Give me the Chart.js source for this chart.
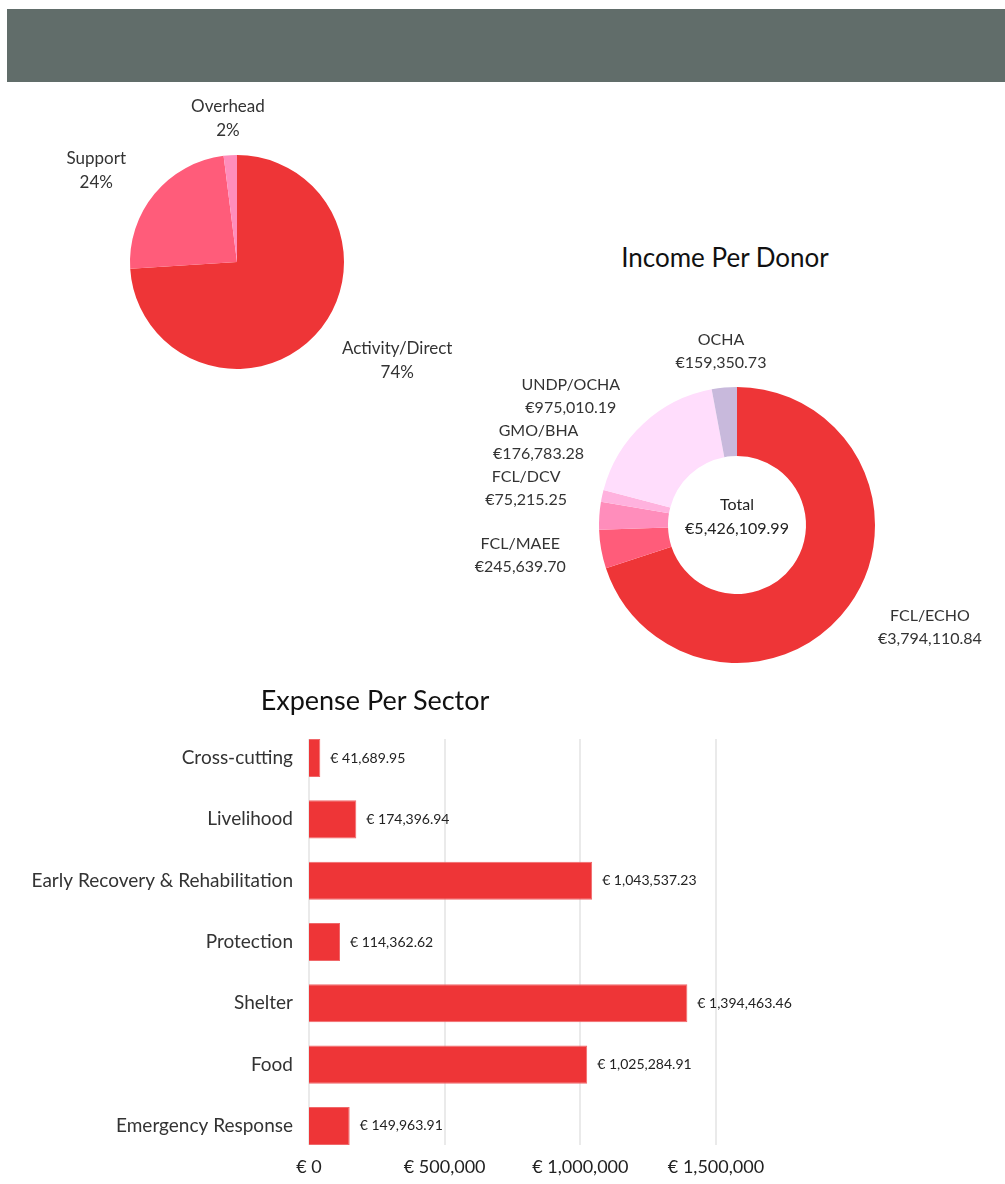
<!DOCTYPE html>
<html>
<head>
<meta charset="utf-8">
<script src="https://cdn.jsdelivr.net/npm/chart.js@4.4.1/dist/chart.umd.min.js"></script>
<style>
  html, body { margin: 0; padding: 0; background: #fff; overflow: hidden; }
  body { width: 1005px; height: 1184px; position: relative; font-family: Lato, "Open Sans", sans-serif; }
  .hdr { position: absolute; left: 7px; top: 9px; width: 998px; height: 73px; background: #616D6A; }
  .ttl { position: absolute; color: #111; font-size: 26px; line-height: 30px; text-align: center; white-space: nowrap; }
  canvas { position: absolute; }
</style>
</head>
<body>
<div class="hdr"></div>
<canvas id="pie" width="460" height="400" style="left:7px; top:62px;"></canvas>
<canvas id="donut" width="536" height="400" style="left:469px; top:325px;"></canvas>
<canvas id="bar" width="800" height="484" style="left:0px; top:700px;"></canvas>
<div class="ttl" style="left:575px; top:242px; width:300px;">Income Per Donor</div>
<div class="ttl" style="left:225px; top:685px; width:300px; font-size:27px;">Expense Per Sector</div>
<script>
// ---------- DATA ----------
const costLabels = ['Activity/Direct', 'Support', 'Overhead'];
const costPercent = [74, 24, 2];

const donorLabels = ['FCL/ECHO', 'FCL/MAEE', 'GMO/BHA', 'FCL/DCV', 'UNDP/OCHA', 'OCHA'];
const donorIncome = [3794110.84, 245639.70, 176783.28, 75215.25, 975010.19, 159350.73];

const sectorLabels = ['Cross-cutting', 'Livelihood', 'Early Recovery & Rehabilitation', 'Protection', 'Shelter', 'Food', 'Emergency Response'];
const sectorExpense = [41689.95, 174396.94, 1043537.23, 114362.62, 1394463.46, 1025284.91, 149963.91];

const xTickValues = [0, 500000, 1000000, 1500000];

// ---------- STYLE ----------
const FONT = 'Lato, "Open Sans", sans-serif';
const costColors = ['#EE3537', '#FF5C7A', '#FF8DBB'];
const donorColors = ['#EE3537', '#FF5C7A', '#FF8DBB', '#FFB2DE', '#FFDDFC', '#C8B9DC'];
const barColor = '#EE3537';

const money2 = v => v.toLocaleString('en-US', { minimumFractionDigits: 2, maximumFractionDigits: 2 });

// Outside labels for pie / doughnut, anchored on each arc, simple collision avoidance
function makeOutLabels(id, linesFn, cfg) {
  return {
    id: id,
    afterDatasetsDraw(chart) {
      const ctx = chart.ctx;
      const meta = chart.getDatasetMeta(0);
      const vals = chart.data.datasets[0].data;
      ctx.save();
      ctx.font = cfg.font;
      ctx.fillStyle = cfg.color;
      ctx.textBaseline = 'middle';
      ctx.textAlign = 'center';
      const lh = cfg.lineHeight;
      const placed = [];
      const order = vals.map((v, i) => i).sort((a, b) => vals[a] - vals[b]);
      for (const i of order) {
        const arc = meta.data[i];
        const mid = (arc.startAngle + arc.endAngle) / 2;
        const R = arc.outerRadius + cfg.offset;
        const dx = Math.cos(mid), dy = Math.sin(mid);
        const lines = linesFn(i);
        const w = Math.max(...lines.map(t => ctx.measureText(t).width));
        const h = lh * lines.length;
        const side = Math.abs(dx) < 0.3 ? 0 : (dx > 0 ? 1 : -1);
        let x = arc.x + R * dx;
        let y = arc.y + R * dy;
        const boxAt = (bx, by) => {
          let x1 = side === 0 ? bx - w / 2 : (side > 0 ? bx : bx - w);
          return { x1: x1, x2: x1 + w, y1: by - h / 2, y2: by + h / 2 };
        };
        let box = boxAt(x, y);
        for (let k = 0; k < 12; k++) {
          const hit = placed.find(p => p.x1 < box.x2 && p.x2 > box.x1 && p.y1 < box.y2 && p.y2 > box.y1);
          if (!hit) break;
          y = dy < 0 ? hit.y1 - h / 2 : hit.y2 + h / 2;
          if (side !== 0) {
            const oy = y - arc.y;
            x = arc.x + side * Math.sqrt(Math.max(R * R - oy * oy, 0));
          }
          box = boxAt(x, y);
        }
        placed.push(box);
        const cx = (box.x1 + box.x2) / 2;
        lines.forEach((t, k) => ctx.fillText(t, cx, box.y1 + lh * (k + 0.5)));
      }
      ctx.restore();
    }
  };
}

// ---------- PIE ----------
new Chart(document.getElementById('pie'), {
  type: 'pie',
  data: {
    labels: costLabels,
    datasets: [{ data: costPercent, backgroundColor: costColors, borderWidth: 0, radius: 107 }]
  },
  options: {
    responsive: false, animation: false, devicePixelRatio: 1,
    layout: { padding: 0 },
    plugins: { legend: { display: false }, tooltip: { enabled: false } }
  },
  plugins: [makeOutLabels('pieLabels', i => [costLabels[i], costPercent[i] + '%'],
    { font: '17px ' + FONT, color: '#333', lineHeight: 24, offset: 37 })]
});

// ---------- DOUGHNUT ----------
const centerText = {
  id: 'centerText',
  afterDatasetsDraw(chart) {
    const arc = chart.getDatasetMeta(0).data[0];
    const total = chart.data.datasets[0].data.reduce((a, b) => a + b, 0);
    const ctx = chart.ctx;
    ctx.save();
    ctx.font = '16px ' + FONT;
    ctx.fillStyle = '#222';
    ctx.textAlign = 'center';
    ctx.textBaseline = 'middle';
    ctx.fillText('Total', arc.x, arc.y - 20);
    ctx.fillText('€' + money2(total), arc.x, arc.y + 4);
    ctx.restore();
  }
};
new Chart(document.getElementById('donut'), {
  type: 'doughnut',
  data: {
    labels: donorLabels,
    datasets: [{ data: donorIncome, backgroundColor: donorColors, borderWidth: 0, radius: 138 }]
  },
  options: {
    responsive: false, animation: false, devicePixelRatio: 1,
    cutout: '50%',
    layout: { padding: 0 },
    plugins: { legend: { display: false }, tooltip: { enabled: false } }
  },
  plugins: [centerText, makeOutLabels('donutLabels', i => [donorLabels[i], '€' + money2(donorIncome[i])],
    { font: '16px ' + FONT, color: '#333', lineHeight: 23, offset: 36 })]
});

// ---------- BAR ----------
const barGrid = {
  id: 'barGrid',
  beforeDatasetsDraw(chart) {
    const xs = chart.scales.x;
    const bars = chart.getDatasetMeta(0).data;
    const top = bars[0].y - bars[0].height / 2;
    const bottom = bars[bars.length - 1].y + bars[bars.length - 1].height / 2;
    const ctx = chart.ctx;
    ctx.save();
    ctx.strokeStyle = '#EAEAEA';
    ctx.lineWidth = 2;
    xTickValues.forEach(v => {
      const px = Math.round(xs.getPixelForValue(v));
      ctx.beginPath(); ctx.moveTo(px, top); ctx.lineTo(px, bottom); ctx.stroke();
    });
    ctx.restore();
  }
};
const barValues = {
  id: 'barValues',
  afterDatasetsDraw(chart) {
    const ctx = chart.ctx;
    const bars = chart.getDatasetMeta(0).data;
    const vals = chart.data.datasets[0].data;
    ctx.save();
    ctx.font = '14px ' + FONT;
    ctx.fillStyle = '#222';
    ctx.textAlign = 'left';
    ctx.textBaseline = 'middle';
    bars.forEach((b, i) => ctx.fillText('€ ' + money2(vals[i]), b.x + 10, b.y));
    ctx.restore();
  }
};
new Chart(document.getElementById('bar'), {
  type: 'bar',
  data: {
    labels: sectorLabels,
    datasets: [{ data: sectorExpense, backgroundColor: barColor, borderColor: '#F0686A', borderWidth: 1,
      barPercentage: 0.62, categoryPercentage: 1 }]
  },
  options: {
    indexAxis: 'y',
    responsive: false, animation: false, devicePixelRatio: 1,
    layout: { padding: { top: 0, right: 84, left: 0, bottom: 0 } },
    plugins: { legend: { display: false }, tooltip: { enabled: false } },
    scales: {
      x: {
        min: xTickValues[0], max: xTickValues[xTickValues.length - 1],
        afterBuildTicks: s => { s.ticks = xTickValues.map(v => ({ value: v })); },
        afterFit: s => { s.height = 27; },
        grid: { display: false, drawTicks: false },
        border: { display: false },
        ticks: { padding: 0, color: '#222', font: { family: FONT, size: 18 },
          callback: v => '€ ' + Number(v).toLocaleString('en-US') }
      },
      y: {
        afterFit: s => { s.width = 309; },
        grid: { display: false, drawTicks: false },
        border: { display: false },
        ticks: { padding: 16, color: '#333', font: { family: FONT, size: 19 } }
      }
    }
  },
  plugins: [barGrid, barValues]
});
</script>
</body>
</html>
